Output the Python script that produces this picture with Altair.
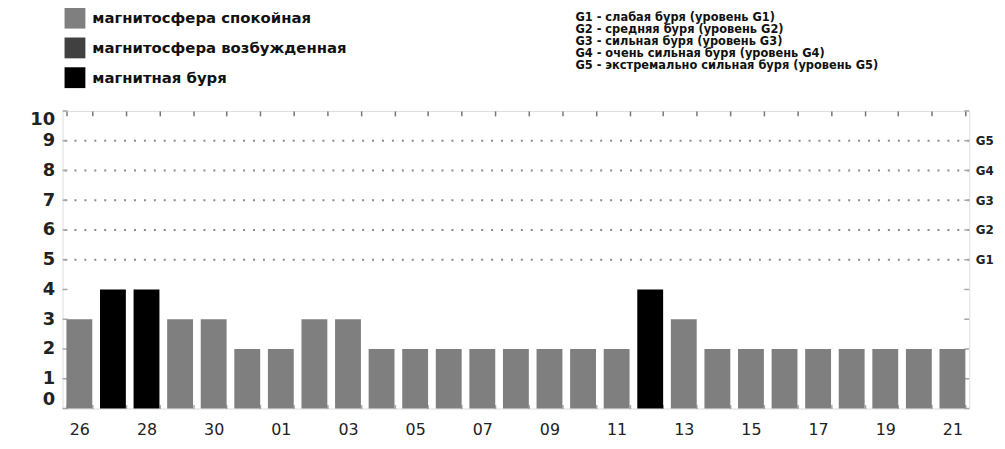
import json
import altair as alt
import pandas as pd

# ---- data ----
days = ["26", "27", "28", "29", "30", "31", "01", "02", "03", "04", "05", "06", "07", "08",
        "09", "10", "11", "12", "13", "14", "15", "16", "17", "18", "19", "20", "21"]
kp = [3, 4, 4, 3, 3, 2, 2, 3, 3, 2, 2, 2, 2, 2, 2, 2, 2, 4, 3, 2, 2, 2, 2, 2, 2, 2, 2]
QUIET = "магнитосфера спокойная"
ACTIVE = "магнитосфера возбужденная"
STORM = "магнитная буря"
state = [QUIET, STORM, STORM, QUIET, QUIET, QUIET, QUIET, QUIET, QUIET, QUIET, QUIET, QUIET,
         QUIET, QUIET, QUIET, QUIET, QUIET, STORM, QUIET, QUIET, QUIET, QUIET, QUIET, QUIET,
         QUIET, QUIET, QUIET]
labeled_days = ["26", "28", "30", "01", "03", "05", "07", "09", "11", "13", "15", "17", "19", "21"]
state_names = [QUIET, ACTIVE, STORM]
state_colors = ["#7f7f7f", "#404040", "#000000"]
y_ticks = list(range(0, 11))
storm_levels = [5, 6, 7, 8, 9]
storm_codes = ["G1", "G2", "G3", "G4", "G5"]
storm_notes = [
    "G1 - слабая буря (уровень G1)",
    "G2 - средняя буря (уровень G2)",
    "G3 - сильная буря (уровень G3)",
    "G4 - очень сильная буря (уровень G4)",
    "G5 - экстремально сильная буря (уровень G5)",
]

df = pd.DataFrame({"day": days, "kp": kp, "state": state})

W, H = 914, 300
xscale = alt.Scale(paddingInner=0.23, paddingOuter=0.115)
yscale = alt.Scale(domain=[0, 10], nice=False)

x_label_expr = "indexof(" + json.dumps(labeled_days) + ", datum.label) >= 0 ? datum.label : ''"
g_label_expr = " : ".join(f"datum.value == {lv} ? '{c}'" for lv, c in zip(storm_levels, storm_codes)) + " : ''"

bars = alt.Chart(df).mark_bar().encode(
    x=alt.X("day:N", sort=days, scale=xscale,
            axis=alt.Axis(orient="bottom", title=None, labelAngle=0, tickBand="extent",
                          tickSize=4, tickColor="#a8a8a8", tickWidth=1.5, offset=-4,
                          domain=False, grid=False, labelExpr=x_label_expr,
                          labelFontSize=16, labelColor="#222222", labelPadding=13)),
    y=alt.Y("kp:Q", scale=yscale,
            axis=alt.Axis(orient="left", title=None, values=y_ticks, ticks=False,
                          domain=False, grid=False, labelFontSize=18, labelFontWeight="bold",
                          labelColor="#222222", labelPadding=8, labelFlush=True)),
    color=alt.Color("state:N", scale=alt.Scale(domain=state_names, range=state_colors),
                    legend=alt.Legend(orient="none", legendX=2, legendY=-104, title=None,
                                      symbolType="square", symbolSize=441, symbolStrokeWidth=0,
                                      symbolOpacity=1, labelFontSize=15, labelFontWeight="bold",
                                      labelColor="#111111", labelOffset=7, rowPadding=9,
                                      padding=0, labelLimit=400)),
)

top_ticks = alt.Chart(df).mark_bar(opacity=0).encode(
    x=alt.X("day:N", sort=days, scale=xscale,
            axis=alt.Axis(orient="top", title=None, labels=False, tickBand="extent",
                          tickSize=5, tickColor="#777777", tickWidth=1.5, offset=-5,
                          domain=False, grid=False)),
)

grid = alt.Chart(pd.DataFrame({"level": storm_levels})).mark_rule(
    strokeDash=[2, 8], color="#8a8a8a", strokeWidth=2
).encode(
    y=alt.Y("level:Q", scale=yscale,
            axis=alt.Axis(orient="right", title=None, values=storm_levels, labelExpr=g_label_expr,
                          ticks=False, domain=False, grid=False, labelFontSize=12,
                          labelFontWeight="bold", labelColor="#222222", labelPadding=6)),
)

tick_df = pd.DataFrame({"level": y_ticks})
left_ticks = alt.Chart(tick_df).mark_rule(color="#a8a8a8", strokeWidth=1.5).encode(
    y=alt.Y("level:Q", scale=yscale, axis=None), x=alt.value(0), x2=alt.value(5)
)
right_ticks = alt.Chart(tick_df).mark_rule(color="#a8a8a8", strokeWidth=1.5).encode(
    y=alt.Y("level:Q", scale=yscale, axis=None), x=alt.value(W - 5), x2=alt.value(W)
)

notes = alt.Chart(pd.DataFrame({"k": [0]})).mark_text(
    align="left", baseline="top", fontSize=11.5, fontWeight="bold", lineHeight=12.3,
    color="#111111"
).encode(x=alt.value(517), y=alt.value(-100), text=alt.value(storm_notes))

chart = alt.layer(grid, left_ticks, right_ticks, top_ticks, bars, notes).resolve_axis(
    x="independent", y="independent"
).properties(
    width=W, height=H,
    autosize=alt.AutoSizeParams(type="none"),
    padding={"left": 55, "top": 102, "right": 28, "bottom": 31},
).configure_view(stroke="#b4b4b4", strokeWidth=2).configure(font="DejaVu Sans")

chart.save("out.html", embed_options={"renderer": "svg", "actions": False})
